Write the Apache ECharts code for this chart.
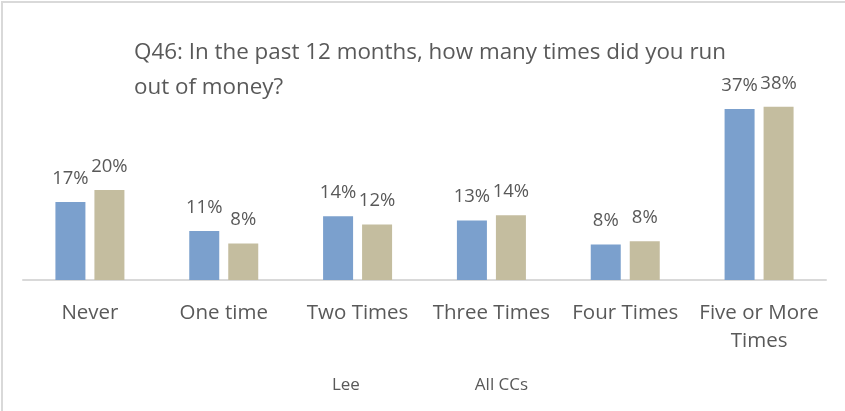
<!DOCTYPE html>
<html>
<head>
<meta charset="utf-8">
<script src="https://cdn.jsdelivr.net/npm/echarts@6/dist/echarts.min.js"></script>
<style>
  html, body { margin: 0; padding: 0; background: #fff; }
  #main { width: 845px; height: 411px; }
</style>
</head>
<body>
<div id="main"></div>
<script>
// 数据
var categories = ['Never', 'One time', 'Two Times', 'Three Times', 'Four Times', 'Five or More\nTimes'];
var leeValues = [16.9, 10.6, 13.8, 12.9, 7.7, 37.0];
var allCCsValues = [19.5, 7.9, 12.0, 14.0, 8.4, 37.5];
var seriesNames = ['Lee', 'All CCs'];

var txt = '#595959';
var myChart = echarts.init(document.getElementById('main'));

var labelOpt = {
    show: true,
    position: 'top',
    distance: 14,
    color: txt,
    fontSize: 18.5,
    fontFamily: 'Open Sans',
    formatter: function (p) { return Math.round(p.value) + '%'; }
};

var option = {
    backgroundColor: '#fff',
    animation: false,
    title: {
        text: 'Q46: In the past 12 months, how many times did you run\nout of money?',
        left: 129,
        top: 30,
        textStyle: {
            color: txt,
            fontSize: 22.4,
            fontWeight: 'normal',
            fontFamily: 'Open Sans',
            lineHeight: 35
        }
    },
    legend: {
        data: seriesNames,
        bottom: 12,
        left: 'center',
        icon: 'none',
        itemWidth: 10,
        itemGap: 100,
        textStyle: { color: txt, fontSize: 17, fontFamily: 'Open Sans' }
    },
    graphic: [{
        type: 'rect',
        shape: { x: 2, y: 2, width: 900, height: 500 },
        style: { fill: 'none', stroke: '#d9d9d9', lineWidth: 2 },
        silent: true
    }],
    grid: { left: 23, right: 19, top: 49, bottom: 131 },
    xAxis: {
        type: 'category',
        data: categories,
        axisLine: { lineStyle: { color: '#d9d9d9', width: 2 } },
        axisTick: { show: false },
        axisLabel: {
            color: txt,
            fontSize: 20.5,
            fontFamily: 'Open Sans',
            margin: 19,
            lineHeight: 28,
            interval: 0
        }
    },
    yAxis: {
        type: 'value',
        min: 0,
        max: 50,
        show: false,
        splitLine: { show: false }
    },
    series: [{
        name: seriesNames[0],
        type: 'bar',
        data: leeValues,
        barWidth: 30,
        barGap: '30%',
        itemStyle: { color: '#7BA0CD' },
        label: labelOpt
    }, {
        name: seriesNames[1],
        type: 'bar',
        data: allCCsValues,
        barWidth: 30,
        itemStyle: { color: '#C4BD9F' },
        label: labelOpt
    }]
};

myChart.setOption(option);
</script>
</body>
</html>
